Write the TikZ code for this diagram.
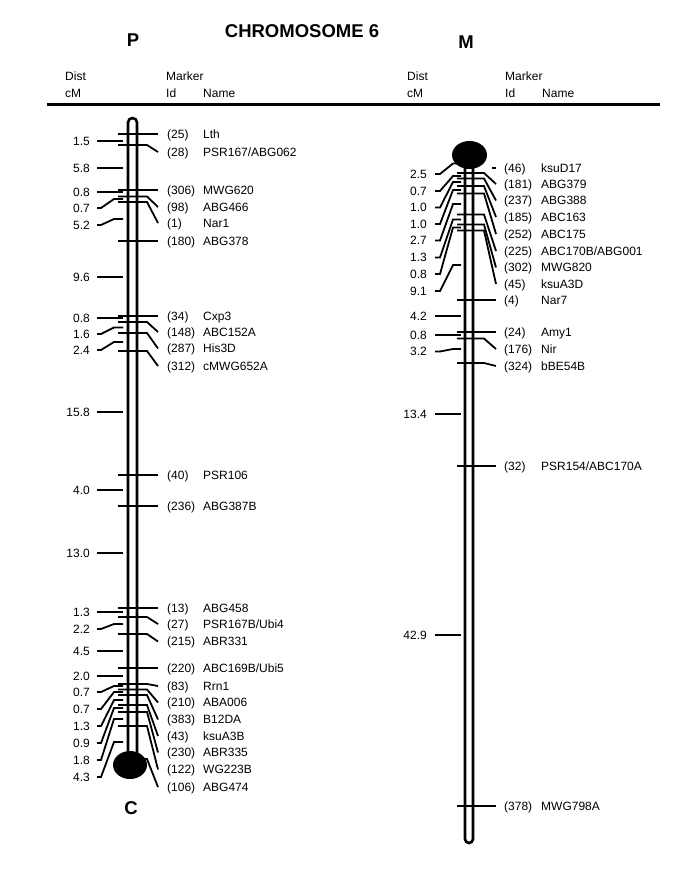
\documentclass[tikz,border=0pt]{standalone}
\usepackage{fontspec}
\setmainfont{Liberation Sans}
\begin{document}
\begin{tikzpicture}[x=1pt,y=-1pt,
  lab/.style={font=\fontsize{12}{14}\selectfont, inner sep=0pt, text height=8.6pt, text depth=0pt},
  head/.style={font=\bfseries\fontsize{18.5}{20}\selectfont, inner sep=0pt},
  barline/.style={line width=2.6pt},
  tickline/.style={line width=1.8pt}]
\useasboundingbox (0,0) rectangle (684,869);

% header
\node[head] (title) at (302,31) {CHROMOSOME 6};
\node[head] (P) at (133,40) {P};
\node[head] (M) at (466,42) {M};
\node[head] (C) at (131,808) {C};
\node[lab,anchor=west] (Pdist) at (65,76) {Dist};
\node[lab,anchor=west] (Pcm) at (65,93) {cM};
\node[lab,anchor=west] (Pmark) at (166,76) {Marker};
\node[lab,anchor=west] (Pidh) at (166,93) {Id};
\node[lab,anchor=west] (Pnameh) at (203,93) {Name};
\node[lab,anchor=west] (Mdist) at (407,76) {Dist};
\node[lab,anchor=west] (Mcm) at (407,93) {cM};
\node[lab,anchor=west] (Mmark) at (505,76) {Marker};
\node[lab,anchor=west] (Midh) at (505,93) {Id};
\node[lab,anchor=west] (Mnameh) at (542,93) {Name};
\coordinate (ruleL) at (47,105);
\coordinate (ruleR) at (660,105);
\draw[line width=3pt] (ruleL) -- (ruleR);

% left chromosome bar
\draw[barline,rounded corners=4.5pt] (128,765) -- (128,118) -- (137,118) -- (137,765);

% left markers
\foreach \yb/\yl/\id/\nm [count=\i] in {
  134/134/25/Lth, 145/152/28/{PSR167/ABG062}, 190/190/306/MWG620,
  196.5/207/98/ABG466, 202/223/1/Nar1, 241/241/180/ABG378,
  316/316/34/Cxp3, 322/332/148/ABC152A, 333/348.5/287/His3D,
  351/366/312/cMWG652A, 475/475/40/PSR106, 506/506/236/ABG387B,
  608/608/13/ABG458, 617/624/27/{PSR167B/Ubi4}, 634/641.5/215/ABR331,
  668/668/220/{ABC169B/Ubi5}, 684/686/83/Rrn1, 689.5/702.5/210/ABA006,
  695/719.5/383/B12DA, 705/736/43/ksuA3B, 712/752.5/230/ABR335,
  726/769.5/122/WG223B, 759/787/106/ABG474} {
  \node[lab,anchor=west] (Pid\i) at (167,\yl) {(\id)};
  \node[lab,anchor=west] (Pnm\i) at (203,\yl) {\nm};
  \draw[tickline] (118,\yb) -- (147,\yb) -- ([xshift=-9pt]Pid\i.west);
}

% left distances
\foreach \yl/\ym/\d [count=\i] in {
  141/141/1.5, 168/168/5.8, 192/192/0.8, 208/199/0.7, 225/219/5.2,
  277/277/9.6, 318/318/0.8, 334/327.5/1.6, 350/342/2.4, 412/412/15.8,
  490/490/4.0, 553/553/13.0, 612/612/1.3, 629/624/2.2, 651/651/4.5,
  676/676/2.0, 692/686/0.7, 709/692/0.7, 726/700/1.3, 743/708/0.9,
  760/719/1.8, 777/742/4.3} {
  \node[lab,anchor=east] (Pd\i) at (90,\yl) {\d};
  \draw[tickline] ([xshift=7pt]Pd\i.east) -- (101,\yl) -- (114,\ym) -- (123,\ym);
}

\fill (130,765) ellipse [x radius=17pt, y radius=14pt];

% right chromosome bar
\draw[barline,rounded corners=4pt] (465,155) -- (465,843) -- (473,843) -- (473,155);

% right markers
\node[lab,anchor=west] (Mid0) at (504,168) {(46)};
\node[lab,anchor=west] (Mnm0) at (541,168) {ksuD17};
\draw[tickline] ([xshift=-12pt]Mid0.west) -- ([xshift=-8pt]Mid0.west);
\foreach \yb/\yl/\id/\nm [count=\i] in {
  173/184/181/ABG379, 178.5/200.5/237/ABG388, 186/217/185/ABC163,
  193.5/234/252/ABC175, 214.5/251/225/{ABC170B/ABG001}, 224.5/267.5/302/MWG820,
  230.5/284/45/ksuA3D, 300/300/4/Nar7, 332/332/24/Amy1,
  338.5/349/176/Nir, 363/366/324/bBE54B, 466/466/32/{PSR154/ABC170A},
  806/806/378/MWG798A} {
  \node[lab,anchor=west] (Mid\i) at (504,\yl) {(\id)};
  \node[lab,anchor=west] (Mnm\i) at (541,\yl) {\nm};
  \draw[tickline] (457,\yb) -- (484,\yb) -- ([xshift=-8pt]Mid\i.west);
}

% right distances
\foreach \yl/\ym/\d [count=\i] in {
  174/163.5/2.5, 191/176/0.7, 207.5/182/1.0, 224/190/1.0, 240.5/204/2.7,
  257.5/219.5/1.3, 274/227.5/0.8, 291/265/9.1, 316/316/4.2,
  335/335/0.8, 351.5/349/3.2, 414/414/13.4, 635/635/42.9} {
  \node[lab,anchor=east] (Md\i) at (427,\yl) {\d};
  \draw[tickline] ([xshift=8pt]Md\i.east) -- (440,\yl) -- (453,\ym) -- (461,\ym);
}

\fill (469.5,155) ellipse [x radius=17.5pt, y radius=14pt];
\end{tikzpicture}
\end{document}
